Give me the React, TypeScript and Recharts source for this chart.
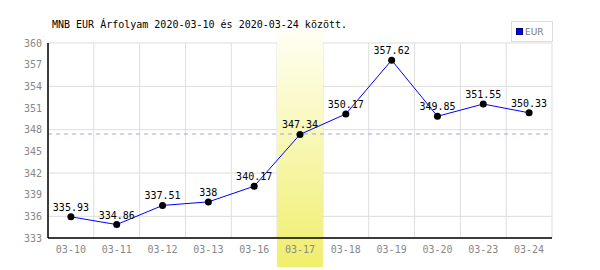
import React from "react";
import {
  ComposedChart,
  Line,
  XAxis,
  YAxis,
  CartesianGrid,
  ReferenceArea,
  ReferenceLine,
  LabelList,
  Legend,
} from "recharts";

const dates = ["03-10", "03-11", "03-12", "03-13", "03-16", "03-17", "03-18", "03-19", "03-20", "03-23", "03-24"];
const eurRates = [335.93, 334.86, 337.51, 338, 340.17, 347.34, 350.17, 357.62, 349.85, 351.55, 350.33];
const yTicks = [333, 336, 339, 342, 345, 348, 351, 354, 357, 360];
const highlightDate = "03-17";
const dashedLevel = 347.4;
const title = "MNB EUR Árfolyam 2020-03-10 és 2020-03-24 között.";

const data = dates.map((d, i) => ({ date: d, EUR: eurRates[i] }));

const mono = "'DejaVu Sans Mono', monospace";

const LegendBox = () => (
  <div
    style={{
      border: "1px solid #dddddd",
      width: 42,
      height: 21,
      display: "flex",
      alignItems: "center",
      paddingLeft: 4,
      boxSizing: "border-box",
      background: "#fff",
    }}
  >
    <span style={{ width: 5, height: 5, background: "#0000ff", border: "1px solid #000080", marginRight: 2 }} />
    <span style={{ fontFamily: "'DejaVu Sans', sans-serif", fontSize: 9, color: "#777" }}>EUR</span>
  </div>
);

const App: React.FC = () => {
  // grid lines sit on the category boundaries, not on the tick centres
  const gridX = ({ offset }: any) => {
    const n = dates.length;
    return Array.from({ length: n + 1 }, (_, i) => offset.left + (i * offset.width) / n);
  };

  return (
    <div style={{ position: "absolute", left: 0, top: 0, width: 600, height: 270, background: "#fff" }}>
      <div
        style={{
          position: "absolute",
          left: 52,
          top: 19,
          fontFamily: mono,
          fontSize: 10,
          color: "#000",
          whiteSpace: "nowrap",
        }}
      >
        {title}
      </div>
      <ComposedChart width={600} height={270} data={data} margin={{ top: 43, right: 48, left: 0, bottom: 0 }}>
        <defs>
          <linearGradient id="hl" x1="0" y1="0" x2="0" y2="1">
            <stop offset="0%" stopColor="#fffff4" />
            <stop offset="100%" stopColor="#f0ee6c" />
          </linearGradient>
        </defs>
        <CartesianGrid stroke="#dddddd" verticalCoordinatesGenerator={gridX} />
        <ReferenceLine y={dashedLevel} stroke="#a0a0f0" strokeDasharray="4 4" />
        <ReferenceArea
          x1={highlightDate}
          x2={highlightDate}
          y1={329}
          y2={361.8}
          ifOverflow="visible"
          fill="url(#hl)"
          fillOpacity={1}
          stroke="none"
        />
        <XAxis
          dataKey="date"
          scale="band"
          height={32}
          tickLine={false}
          tickSize={0}
          tickMargin={8}
          axisLine={{ stroke: "#000", strokeWidth: 1.5 }}
          tick={{ fill: "#888", fontSize: 10, fontFamily: mono }}
        />
        <YAxis
          width={48}
          domain={[333, 360]}
          ticks={yTicks}
          tickLine={false}
          tickSize={0}
          tickMargin={6}
          axisLine={{ stroke: "#000", strokeWidth: 1.5 }}
          tick={{ fill: "#888", fontSize: 10, fontFamily: mono }}
        />
        <Legend
          verticalAlign="middle"
          align="center"
          layout="horizontal"
          wrapperStyle={{ top: 21, left: 511, width: 42, height: 21 }}
          content={() => <LegendBox />}
        />
        <Line
          type="linear"
          dataKey="EUR"
          stroke="#0000ff"
          strokeWidth={1}
          dot={{ r: 3.5, fill: "#000", stroke: "#000", strokeWidth: 0 }}
          isAnimationActive={false}
        >
          <LabelList dataKey="EUR" position="top" offset={6} fill="#000" fontSize={10} fontFamily={mono} />
        </Line>
      </ComposedChart>
    </div>
  );
};

export default App;
